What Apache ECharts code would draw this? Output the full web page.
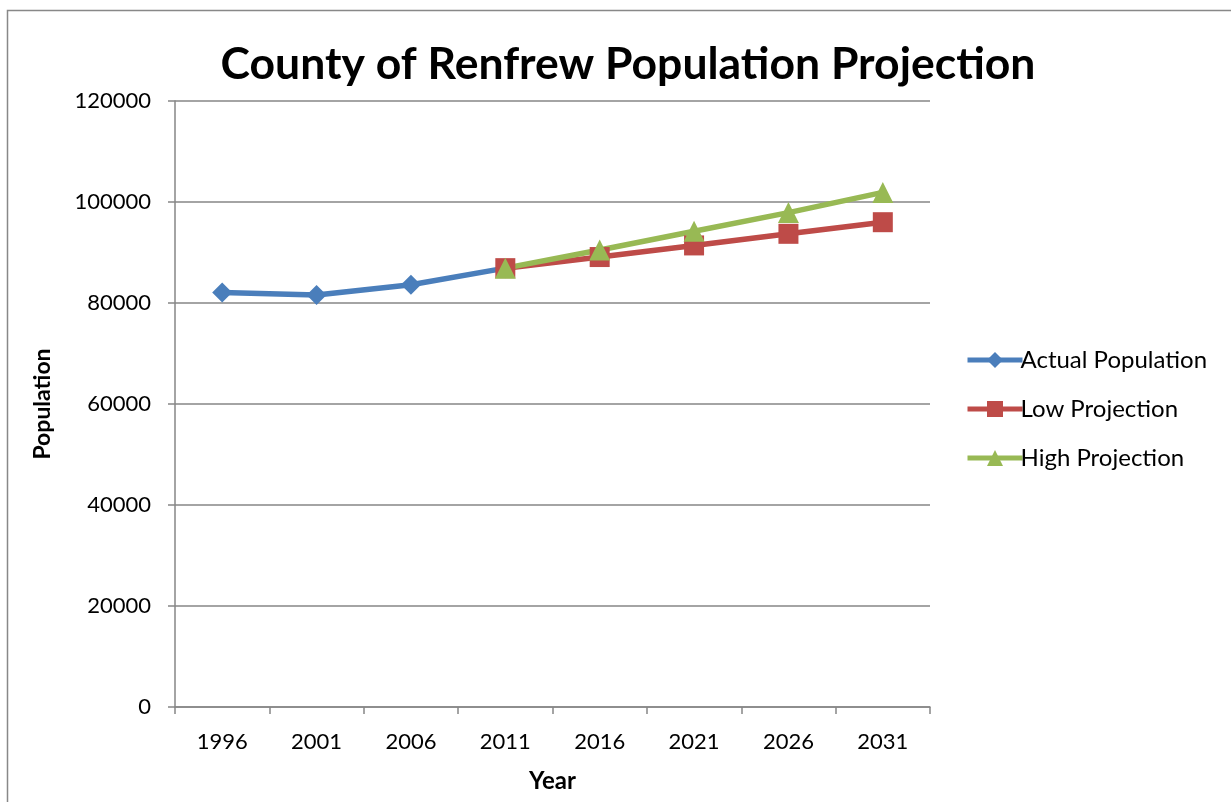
<!DOCTYPE html>
<html>
<head>
<meta charset="utf-8">
<title>County of Renfrew Population Projection</title>
<script src="https://cdn.jsdelivr.net/npm/echarts@6/dist/echarts.min.js"></script>
<style>
  html, body { margin: 0; padding: 0; background: #fff; }
  #chart { width: 1231px; height: 802px; }
</style>
</head>
<body>
<div id="chart"></div>
<script>
// Census years and projection horizon
const years = ['1996', '2001', '2006', '2011', '2016', '2021', '2026', '2031'];

// Population counts (null where a series has no value)
const actualPopulation = [82100, 81600, 83600, 86900, null, null, null, null];
const lowProjection    = [null, null, null, 86900, 89100, 91400, 93700, 96000];
const highProjection   = [null, null, null, 86900, 90500, 94200, 97900, 101900];

const FONT = 'Lato, "Open Sans", sans-serif';
const AXIS_GRAY = '#868686';

const chart = echarts.init(document.getElementById('chart'), null, { renderer: 'canvas' });

function lineSeries(name, data, color, symbol, size) {
  return {
    name: name,
    type: 'line',
    data: data,
    symbol: symbol,
    symbolSize: size,
    showAllSymbol: true,
    connectNulls: false,
    lineStyle: { width: 5.5, color: color },
    itemStyle: { color: color },
    emphasis: { disabled: true },
    animation: false
  };
}

chart.setOption({
  backgroundColor: '#fff',
  animation: false,
  textStyle: { fontFamily: FONT },
  title: {
    text: 'County of Renfrew Population Projection',
    left: 623,
    top: 37,
    textAlign: 'center',
    textStyle: { fontSize: 44.5, fontWeight: 'bold', color: '#000', fontFamily: FONT }
  },
  graphic: [{
    type: 'rect',
    shape: { x: 7.5, y: 10.5, width: 1300, height: 900 },
    style: { fill: 'none', stroke: '#888', lineWidth: 1.5 },
    silent: true
  }],
  legend: {
    orient: 'vertical',
    left: 960,
    top: 343,
    itemWidth: 55,
    itemHeight: 20,
    itemGap: 25,
    lineStyle: { width: 5 },
    textStyle: { fontSize: 24, lineHeight: 24, color: '#000', fontFamily: FONT, padding: [0, 0, 0, -7] },
    data: ['Actual Population', 'Low Projection', 'High Projection']
  },
  grid: { left: 175, right: 301, top: 101, bottom: 95, containLabel: false, outerBoundsMode: 'none' },
  xAxis: {
    type: 'category',
    data: years,
    boundaryGap: true,
    name: 'Year',
    nameLocation: 'middle',
    nameGap: 62,
    nameTextStyle: { fontSize: 24, fontWeight: 'bold', color: '#000', fontFamily: FONT },
    axisLine: { show: true, lineStyle: { color: AXIS_GRAY, width: 1.5 } },
    axisTick: { show: true, alignWithLabel: false, length: 7, lineStyle: { color: AXIS_GRAY, width: 1.5 } },
    axisLabel: { fontSize: 22, color: '#000', margin: 24, fontFamily: FONT },
    splitLine: { show: false }
  },
  yAxis: {
    type: 'value',
    min: 0,
    max: 120000,
    interval: 20000,
    name: 'Population',
    nameLocation: 'middle',
    nameGap: 121,
    nameRotate: 90,
    nameTextStyle: { fontSize: 23, fontWeight: 'bold', color: '#000', fontFamily: FONT },
    axisLine: { show: true, lineStyle: { color: AXIS_GRAY, width: 1.5 } },
    axisTick: { show: true, inside: false, length: 7, lineStyle: { color: AXIS_GRAY, width: 1.5 } },
    axisLabel: { fontSize: 22, color: '#000', margin: 24, fontFamily: FONT, formatter: function (v) { return String(v); } },
    splitLine: { show: true, lineStyle: { color: AXIS_GRAY, width: 1.5 } }
  },
  series: [
    lineSeries('Actual Population', actualPopulation, '#4A7EBB', 'diamond', 20),
    lineSeries('Low Projection', lowProjection, '#BE4B48', 'rect', 20),
    lineSeries('High Projection', highProjection, '#98B954', 'triangle', 21)
  ]
});
</script>
</body>
</html>
